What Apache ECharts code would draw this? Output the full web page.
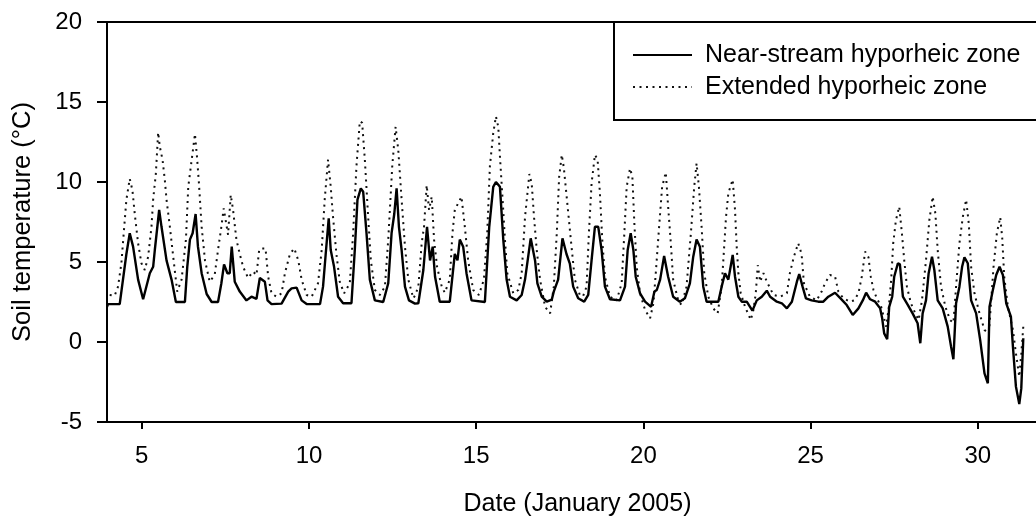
<!DOCTYPE html>
<html>
<head>
<meta charset="utf-8">
<script src="https://cdn.jsdelivr.net/npm/echarts@6/dist/echarts.min.js"></script>
<style>
html,body{margin:0;padding:0;background:#fff;}
#chart{width:1036px;height:518px;}
</style>
</head>
<body>
<div id="chart"></div>
<script>
// ---- data ----
const xTicks = [5, 10, 15, 20, 25, 30];
const yTicks = [-5, 0, 5, 10, 15, 20];
const seriesNames = ['Near-stream hyporheic zone', 'Extended hyporheic zone'];

const nearDays = [3.96,3.99,4.34,4.54,4.64,4.74,4.89,5.04,5.24,5.34,5.39,5.52,5.59,5.74,5.89,6.02,6.29,6.36,6.44,6.52,6.61,6.68,6.79,6.94,7.09,7.28,7.38,7.46,7.56,7.63,7.69,7.78,7.93,8.13,8.28,8.43,8.53,8.58,8.68,8.76,8.88,9.18,9.38,9.48,9.63,9.78,9.93,10.33,10.42,10.50,10.59,10.65,10.75,10.87,11.02,11.27,11.37,11.45,11.55,11.62,11.72,11.82,11.97,12.22,12.37,12.47,12.55,12.62,12.69,12.77,12.87,12.99,13.17,13.27,13.42,13.53,13.62,13.70,13.77,13.91,14.21,14.36,14.44,14.51,14.61,14.71,14.86,15.26,15.39,15.51,15.59,15.71,15.81,15.91,16.01,16.21,16.36,16.46,16.63,16.76,16.83,16.96,17.11,17.26,17.32,17.45,17.58,17.70,17.80,17.90,18.05,18.23,18.35,18.45,18.55,18.65,18.75,18.85,19.00,19.30,19.45,19.53,19.62,19.70,19.77,19.90,20.05,20.23,20.33,20.40,20.50,20.62,20.74,20.89,21.09,21.24,21.39,21.49,21.59,21.69,21.79,21.89,22.24,22.34,22.44,22.54,22.59,22.67,22.74,22.84,22.94,23.09,23.26,23.39,23.54,23.69,23.79,23.99,24.14,24.29,24.44,24.59,24.66,24.76,24.86,25.03,25.23,25.38,25.53,25.73,25.93,26.08,26.26,26.43,26.56,26.66,26.78,26.93,27.08,27.14,27.20,27.29,27.35,27.44,27.50,27.61,27.67,27.76,27.91,28.05,28.20,28.28,28.35,28.45,28.53,28.63,28.70,28.80,28.95,29.10,29.20,29.27,29.35,29.45,29.53,29.60,29.70,29.80,29.95,30.07,30.20,30.30,30.35,30.45,30.55,30.65,30.75,30.85,30.99,31.05,31.14,31.24,31.30,31.36];
const nearTemps = [2.2,2.37,2.37,5.5,6.8,5.96,3.9,2.67,4.3,4.7,5.75,8.25,7.2,5.1,3.9,2.5,2.5,4.7,6.4,6.8,8.0,5.96,4.3,3.0,2.5,2.5,3.67,4.85,4.3,4.3,5.96,3.77,3.15,2.6,2.83,2.7,4.0,3.9,3.77,2.6,2.37,2.4,3.15,3.35,3.4,2.6,2.37,2.37,3.46,5.5,7.73,5.75,4.7,2.83,2.42,2.42,5.75,8.9,9.6,9.4,6.8,3.9,2.6,2.5,3.67,6.8,8.0,9.6,7.2,5.75,3.46,2.6,2.4,2.42,4.5,7.2,5.1,5.96,4.08,2.52,2.52,5.5,5.1,6.4,5.96,4.3,2.6,2.5,7.2,9.7,10.0,9.7,6.4,3.9,2.83,2.6,2.94,3.9,6.48,5.1,3.67,2.83,2.52,2.65,3.15,3.9,6.48,5.5,4.9,3.46,2.73,2.52,2.94,5.1,7.2,7.2,5.75,3.46,2.67,2.6,3.46,5.75,6.8,5.75,4.08,3.04,2.52,2.2,3.15,3.25,3.9,5.38,4.08,2.83,2.52,2.73,3.67,5.33,6.4,5.96,3.46,2.52,2.52,3.46,4.3,3.9,3.9,5.44,4.08,2.83,2.52,2.52,1.96,2.6,2.83,3.21,2.83,2.52,2.42,2.1,2.52,3.77,4.25,3.46,2.73,2.6,2.52,2.52,2.83,3.08,2.65,2.31,1.69,2.1,2.6,3.08,2.67,2.52,2.1,1.48,0.54,0.17,2.2,2.83,4.08,4.92,4.85,2.83,2.31,1.79,1.17,-0.08,1.79,2.6,4.3,5.33,4.5,2.6,2.1,0.96,-0.29,-1.08,2.42,3.46,4.7,5.29,4.92,2.6,1.79,0.13,-1.96,-2.58,2.2,3.25,4.19,4.7,4.19,2.42,1.58,-0.29,-2.79,-3.88,-2.9,0.23];

const extDays = [4.04,4.19,4.29,4.39,4.46,4.54,4.64,4.72,4.79,4.89,4.99,5.09,5.19,5.29,5.34,5.42,5.49,5.54,5.62,5.69,5.74,5.84,5.94,6.06,6.19,6.32,6.39,6.46,6.59,6.65,6.71,6.79,6.89,7.03,7.18,7.28,7.38,7.45,7.58,7.66,7.73,7.83,7.93,8.03,8.18,8.33,8.43,8.51,8.58,8.70,8.78,8.88,9.03,9.18,9.28,9.43,9.56,9.68,9.78,9.93,10.08,10.27,10.38,10.47,10.57,10.65,10.72,10.82,10.92,11.05,11.22,11.32,11.42,11.52,11.59,11.67,11.77,11.85,11.97,12.12,12.27,12.37,12.49,12.59,12.67,12.77,12.87,12.97,13.12,13.17,13.27,13.37,13.44,13.52,13.59,13.67,13.74,13.83,13.97,14.06,14.21,14.29,14.36,14.46,14.56,14.66,14.76,14.91,15.08,15.23,15.33,15.41,15.51,15.59,15.66,15.71,15.79,15.86,15.93,16.11,16.26,16.36,16.46,16.59,16.66,16.73,16.81,16.91,17.06,17.21,17.32,17.41,17.48,17.56,17.62,17.70,17.83,17.95,18.15,18.30,18.37,18.45,18.55,18.63,18.70,18.77,18.85,19.00,19.20,19.35,19.43,19.50,19.60,19.67,19.73,19.80,19.90,20.05,20.20,20.30,20.37,20.47,20.56,20.67,20.74,20.82,20.89,21.04,21.14,21.29,21.42,21.52,21.59,21.66,21.74,21.82,21.94,22.09,22.22,22.34,22.39,22.47,22.54,22.67,22.74,22.79,22.84,22.91,23.04,23.21,23.29,23.36,23.42,23.49,23.59,23.69,23.89,24.09,24.29,24.38,24.50,24.63,24.73,24.80,24.98,25.18,25.33,25.43,25.58,25.73,25.83,25.98,26.18,26.30,26.43,26.53,26.63,26.73,26.80,26.88,26.98,27.11,27.26,27.34,27.41,27.47,27.55,27.65,27.73,27.80,27.88,28.00,28.13,28.23,28.33,28.45,28.55,28.65,28.73,28.80,28.90,29.03,29.17,29.27,29.35,29.45,29.55,29.65,29.73,29.80,29.90,30.05,30.20,30.33,30.40,30.47,30.57,30.67,30.73,30.79,30.90,31.05,31.14,31.24,31.30,31.36];
const extTemps = [2.94,2.9,3.46,4.92,6.8,8.9,10.2,9.5,8.0,6.17,4.92,4.5,5.33,7.2,8.9,10.5,13.1,12.2,11.4,10.1,8.9,7.2,5.33,3.15,3.9,6.4,9.7,10.85,13.0,11.6,9.9,7.2,5.1,3.77,4.19,5.75,7.2,8.35,6.7,9.2,8.25,6.4,5.5,4.7,4.0,4.4,4.19,5.75,5.85,5.85,4.08,3.04,2.83,3.04,4.3,5.5,5.85,5.1,3.9,2.94,2.83,3.67,5.75,8.9,11.4,9.7,7.8,5.5,3.77,3.04,3.67,6.8,11.0,13.8,13.7,11.4,7.8,5.1,3.25,2.94,3.46,6.4,11.0,13.45,12.0,8.9,5.96,3.9,2.73,2.9,3.46,6.17,7.2,9.8,8.25,9.08,6.4,4.7,3.46,3.08,3.9,6.8,8.25,8.67,9.08,7.2,5.1,3.25,2.94,3.9,6.8,11.0,13.05,14.1,13.45,11.6,8.9,6.4,4.3,3.04,3.25,4.3,7.8,10.5,9.9,7.8,5.75,3.9,2.2,1.79,3.46,6.8,10.3,11.7,10.9,9.2,6.4,3.9,2.6,3.46,6.8,9.9,11.7,11.4,9.3,6.4,4.08,2.83,2.6,3.67,6.8,9.7,10.85,10.33,7.4,4.7,3.04,2.0,1.48,2.42,4.3,7.2,9.7,10.6,8.46,6.17,3.9,2.6,2.31,3.46,6.8,9.7,11.17,9.7,7.2,4.3,2.83,2.1,1.79,3.46,5.1,7.8,9.3,10.15,8.25,5.96,4.3,3.04,2.2,1.38,2.0,3.04,4.8,3.77,4.3,3.77,2.94,2.83,3.04,4.3,5.33,6.17,5.5,3.67,2.83,2.6,3.15,3.67,4.19,4.1,3.15,2.73,2.52,2.6,3.04,4.08,5.65,5.3,4.08,3.25,2.73,2.2,0.96,2.2,3.9,6.17,7.6,8.46,6.8,5.1,3.46,2.42,1.79,1.38,2.6,5.1,7.6,9.08,8.04,5.75,3.46,2.2,1.38,1.2,3.46,6.17,7.8,8.9,7.4,4.7,3.04,1.79,0.75,0.54,2.6,4.7,6.8,7.8,6.5,4.08,2.2,0.75,-0.71,-2.17,-0.7,0.96];

const nearData = nearDays.map((d, i) => [d, nearTemps[i]]);
const extData = extDays.map((d, i) => [d, extTemps[i]]);

const FONT = 'Liberation Sans, Arial, sans-serif';
const chart = echarts.init(document.getElementById('chart'), null, {renderer: 'canvas'});
const X_MIN = 3.96, X_MAX = 31.74;

chart.setOption({
  animation: false,
  backgroundColor: '#fff',
  grid: {left: 107, right: 0, top: 22, bottom: 96, outerBoundsMode: 'none'},
  graphic: [{
    type: 'rect', z: 0,
    shape: {x: 614, y: 22, width: 440, height: 98},
    style: {fill: '#fff', stroke: '#000', lineWidth: 2}
  }],
  legend: {
    orient: 'vertical', left: 632, top: 39, padding: 0, itemGap: 0,
    itemWidth: 59, itemHeight: 14, z: 5,
    data: seriesNames,
    itemStyle: {opacity: 0},
    textStyle: {fontFamily: FONT, fontSize: 25, color: '#000', lineHeight: 32, padding: [0, 0, 0, 8]}
  },
  xAxis: [{
    type: 'value', min: X_MIN, max: X_MAX, position: 'bottom',
    name: 'Date (January 2005)', nameLocation: 'middle', nameGap: 70,
    nameTextStyle: {fontFamily: FONT, fontSize: 25, color: '#000', padding: [0, 0, 0, 12]},
    axisLine: {show: true, onZero: false, lineStyle: {color: '#000', width: 2}},
    axisTick: {show: true, inside: false, length: 7, customValues: xTicks, lineStyle: {color: '#000', width: 2}},
    axisLabel: {customValues: xTicks, margin: 22, fontFamily: FONT, fontSize: 24, color: '#000'},
    splitLine: {show: false}
  }, {
    type: 'value', min: X_MIN, max: X_MAX, position: 'top',
    axisLine: {show: true, onZero: false, lineStyle: {color: '#000', width: 2}},
    axisTick: {show: false}, axisLabel: {show: false}, splitLine: {show: false}
  }],
  yAxis: {
    type: 'value', min: yTicks[0], max: yTicks[yTicks.length - 1], interval: 5,
    name: 'Soil temperature (°C)', nameLocation: 'middle', nameGap: 71,
    nameTextStyle: {fontFamily: FONT, fontSize: 25.5, color: '#000'},
    axisLine: {show: true, onZero: false, lineStyle: {color: '#000', width: 2}},
    axisTick: {show: true, inside: false, length: 10, lineStyle: {color: '#000', width: 2}},
    axisLabel: {margin: 25, fontFamily: FONT, fontSize: 24, color: '#000'},
    splitLine: {show: false}
  },
  series: [{
    name: seriesNames[0], type: 'line', data: nearData,
    showSymbol: false, symbol: 'none', z: 3,
    lineStyle: {color: '#000', width: 2.4}, itemStyle: {color: '#000'}
  }, {
    name: seriesNames[1], type: 'line', data: extData,
    showSymbol: false, symbol: 'none', z: 2,
    lineStyle: {color: '#111', width: 2, type: [2, 4.5]}, itemStyle: {color: '#111'}
  }]
});
</script>
</body>
</html>
